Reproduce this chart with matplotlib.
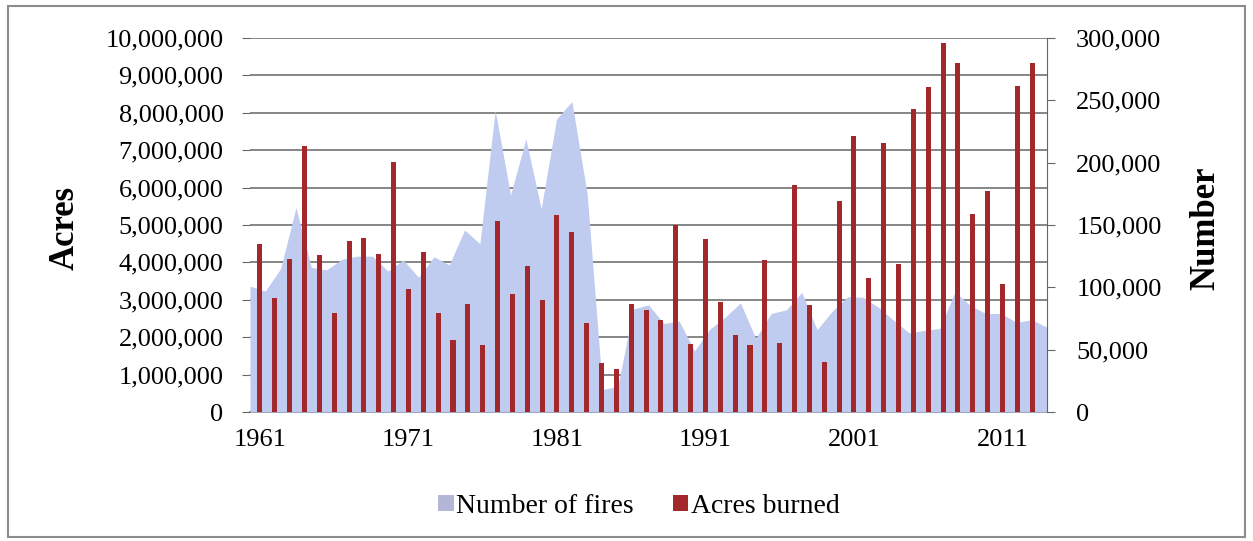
import matplotlib
matplotlib.use('Agg')
import matplotlib.pyplot as plt
from matplotlib.patches import Patch, Rectangle
from matplotlib.ticker import FuncFormatter, MultipleLocator

plt.rcParams['font.family'] = ['Liberation Serif', 'DejaVu Serif']

# ── data ─────────────────────────────────────────────────────────
year_labels = [str(y) for y in range(1961, 2014)]

acres_burned = [
    4480000, 3040000, 4080000, 7120000, 4200000, 2650000, 4570000, 4660000, 4230000, 6690000,
    3280000, 4280000, 2640000, 1920000, 2880000, 1790000, 5110000, 3150000, 3910000, 2990000,
    5260000, 4810000, 2380000, 1320000, 1150000, 2900000, 2720000, 2450000, 5010000, 1830000,
    4620000, 2950000, 2070000, 1800000, 4070000, 1840000, 6070000, 2860000, 1330000, 5630000,
    7390000, 3570000, 7180000, 3960000, 8100000, 8690000, 9870000, 9330000, 5290000, 5920000,
    3420000, 8710000, 9330000,
]

number_of_fires = [
    101000, 97000, 115000, 164000, 116000, 114000, 122500, 125000, 125000, 113000,
    122000, 108000, 124500, 118000, 146000, 135000, 242000, 174000, 219000, 163000,
    235000, 249000, 175000, 18000, 20500, 82500, 86000, 71000, 73000, 49000,
    66500, 76000, 87500, 59000, 79000, 82000, 96000, 66000, 81000, 92500,
    92000, 84000, 73500, 63500, 65500, 67000, 96500, 85500, 79000, 79000,
    72000, 74000, 68000,
]

BAR_COLOR = '#a3282c'
AREA_COLOR = '#bfcbef'
GRID_COLOR = '#666666'

fig = plt.figure(figsize=(12.53, 5.41), dpi=100)
rect = [0.1995, 0.2384, 0.6361, 0.6914]

# ── bottom layer: left axis + gridlines ──────────────────────────
ax = fig.add_axes(rect, zorder=1)
n = len(acres_burned)
ax.set_xlim(-0.67, n)
ax.set_ylim(0, 10_000_000)
ax.yaxis.set_major_locator(MultipleLocator(1_000_000))
ax.yaxis.set_major_formatter(FuncFormatter(lambda v, p: f"{int(v):,}"))
ax.grid(axis='y', color=GRID_COLOR, linewidth=1.1)
ax.set_axisbelow(True)
for s in ('top', 'right', 'left'):
    ax.spines[s].set_visible(False)
ax.spines['bottom'].set_color(GRID_COLOR)
ax.spines['bottom'].set_linewidth(1.2)
ax.tick_params(axis='y', length=6, color=GRID_COLOR, labelsize=19, pad=13)
ax.set_xticks(range(0, n, 10))
ax.set_xticklabels(year_labels[::10])
ax.tick_params(axis='x', length=0, labelsize=19, pad=12)

# ── middle layer: number of fires (area, right axis) ─────────────
ax_area = fig.add_axes(rect, zorder=2)
ax_area.patch.set_visible(False)
ax_area.fill_between(range(n), number_of_fires, color=AREA_COLOR, linewidth=0)
ax_area.set_xlim(0, n - 1)
ax_area.set_ylim(0, 300_000)
ax_area.set_xticks([])
ax_area.yaxis.tick_right()
ax_area.yaxis.set_major_locator(MultipleLocator(50_000))
ax_area.yaxis.set_major_formatter(FuncFormatter(lambda v, p: f"{int(v):,}"))
ax_area.tick_params(axis='y', length=6, color=GRID_COLOR, labelsize=19, pad=15)
for s in ('top', 'left', 'bottom'):
    ax_area.spines[s].set_visible(False)
ax_area.spines['right'].set_color(GRID_COLOR)

# ── top layer: acres burned (bars, left scale) ───────────────────
ax_bar = ax.twinx()
ax_bar.set_zorder(3)
ax_bar.patch.set_visible(False)
ax_bar.bar(range(n), acres_burned, width=0.34, color=BAR_COLOR)
ax_bar.set_ylim(ax.get_ylim())
ax_bar.set_yticks([])
for s in ax_bar.spines.values():
    s.set_visible(False)

fig.text(0.052, 0.579, "Acres", rotation=90, ha='center', va='center',
         fontsize=25, fontweight='bold')
fig.text(0.962, 0.579, "Number", rotation=90, ha='center', va='center',
         fontsize=25, fontweight='bold')

handles = [Patch(facecolor='#b3b6d6', label='Number of fires'),
           Patch(facecolor=BAR_COLOR, label='Acres burned')]
fig.legend(handles=handles, loc='center', bbox_to_anchor=(0.51, 0.064), ncol=2,
           frameon=False, fontsize=20, handlelength=0.55, handleheight=0.55,
           handletextpad=0.1, columnspacing=1.4)

fig.patches.append(Rectangle((0.006, 0.008), 0.988, 0.98, transform=fig.transFigure,
                             fill=False, edgecolor='#8c8c8c', linewidth=1.5))

fig.savefig('out.png', dpi=100)
